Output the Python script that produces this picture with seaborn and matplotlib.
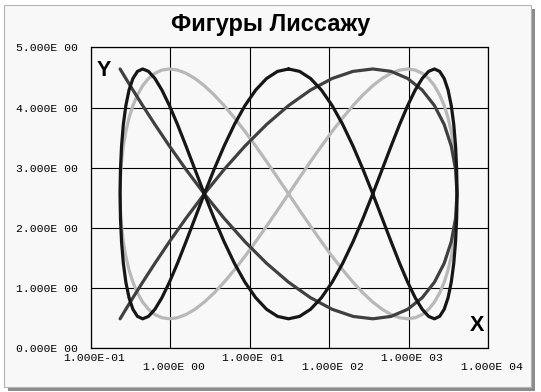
import matplotlib
matplotlib.use("Agg")
import matplotlib.pyplot as plt
from matplotlib.patches import Rectangle
from matplotlib.transforms import ScaledTranslation
from matplotlib.ticker import NullLocator
import seaborn as sns
import pandas as pd

# ---------------- data ----------------
title = "Фигуры Лиссажу"

x_ticks = [0.1, 1, 10, 100, 1000, 10000]
x_tick_labels = ["1.000E-01", "1.000E 00", "1.000E 01", "1.000E 02", "1.000E 03", "1.000E 04"]
y_ticks = [0, 1, 2, 3, 4, 5]
y_tick_labels = ["0.000E 00", "1.000E 00", "2.000E 00", "3.000E 00", "4.000E 00", "5.000E 00"]

# light grey figure-eight
grey_x = [30.903, 42.526, 58.441, 80.093, 109.32, 148.41, 200.12, 267.70, 354.81, 465.38,
          603.36, 772.35, 975.14, 1213.1, 1485.6, 1789.4, 2118.2, 2462.5, 2809.5, 3144.1,
          3449.5, 3709.1, 3907.2, 4031.4, 4073.8,
          4031.4, 3907.2, 3709.1, 3449.5, 3144.1, 2809.5, 2462.5, 2118.2, 1789.4, 1485.6,
          1213.1, 975.14, 772.35, 603.36, 465.38, 354.81, 267.70, 200.12, 148.41, 109.32,
          80.093, 58.441, 42.526, 30.903, 22.457, 16.341, 11.924, 8.7358, 6.435, 4.7722,
          3.5674, 2.6915, 2.0521, 1.5828, 1.2365, 0.9793, 0.7872, 0.6428, 0.5337, 0.4509,
          0.3878, 0.3399, 0.3037, 0.2769, 0.2575, 0.2444, 0.2369, 0.2344,
          0.2369, 0.2444, 0.2575, 0.2769, 0.3037, 0.3399, 0.3878, 0.4509, 0.5337, 0.6428,
          0.7872, 0.9793, 1.2365, 1.5828, 2.0521, 2.6915, 3.5674, 4.7722, 6.435, 8.7358,
          11.924, 16.341, 22.457, 30.903]
grey_y = [2.565, 2.836, 3.102, 3.359, 3.603, 3.828, 4.032, 4.211, 4.362, 4.482, 4.569, 4.622, 4.640,
          4.622, 4.569, 4.482, 4.362, 4.211, 4.032, 3.828, 3.603, 3.359, 3.102, 2.836, 2.565,
          2.294, 2.028, 1.771, 1.527, 1.302, 1.098, 0.919, 0.768, 0.648, 0.561, 0.508, 0.490,
          0.508, 0.561, 0.648, 0.768, 0.919, 1.098, 1.302, 1.527, 1.771, 2.028, 2.294, 2.565,
          2.836, 3.102, 3.359, 3.603, 3.828, 4.032, 4.211, 4.362, 4.482, 4.569, 4.622, 4.640,
          4.622, 4.569, 4.482, 4.362, 4.211, 4.032, 3.828, 3.603, 3.359, 3.102, 2.836, 2.565,
          2.294, 2.028, 1.771, 1.527, 1.302, 1.098, 0.919, 0.768, 0.648, 0.561, 0.508, 0.490,
          0.508, 0.561, 0.648, 0.768, 0.919, 1.098, 1.302, 1.527, 1.771, 2.028, 2.294, 2.565]

# dark grey open curve
dgrey_x = [0.2344, 0.2444, 0.2769, 0.3399, 0.4509, 0.6428, 0.9793, 1.5828, 2.6915, 4.7722,
           8.7358, 16.341, 30.903, 58.441, 109.32, 200.12, 354.81, 603.36, 975.14, 1485.6,
           2118.2, 2809.5, 3449.5, 3907.2, 4073.8, 3907.2, 3449.5, 2809.5, 2118.2, 1485.6,
           975.14, 603.36, 354.81, 200.12, 109.32, 58.441, 30.903, 16.341, 8.7358, 4.7722,
           2.6915, 1.5828, 0.9793, 0.6428, 0.4509, 0.3399, 0.2769, 0.2444, 0.2344]
dgrey_y = [4.640, 4.600, 4.482, 4.290, 4.032, 3.718, 3.359, 2.970, 2.565, 2.160,
           1.771, 1.412, 1.098, 0.840, 0.648, 0.530, 0.490, 0.530, 0.648, 0.840,
           1.098, 1.412, 1.771, 2.160, 2.565, 2.970, 3.359, 3.718, 4.032, 4.290,
           4.482, 4.600, 4.640, 4.600, 4.482, 4.290, 4.032, 3.718, 3.359, 2.970,
           2.565, 2.160, 1.771, 1.412, 1.098, 0.840, 0.648, 0.530, 0.490]

# black closed curve (three lobes)
black_x = [30.903, 42.526, 58.441, 80.093, 109.32, 148.41, 200.12, 267.70, 354.81, 465.38,
           603.36, 772.35, 975.14, 1213.1, 1485.6, 1789.4, 2118.2, 2462.5, 2809.5, 3144.1,
           3449.5, 3709.1, 3907.2, 4031.4, 4073.8,
           4031.4, 3907.2, 3709.1, 3449.5, 3144.1, 2809.5, 2462.5, 2118.2, 1789.4, 1485.6,
           1213.1, 975.14, 772.35, 603.36, 465.38, 354.81, 267.70, 200.12, 148.41, 109.32,
           80.093, 58.441, 42.526, 30.903, 22.457, 16.341, 11.924, 8.7358, 6.435, 4.7722,
           3.5674, 2.6915, 2.0521, 1.5828, 1.2365, 0.9793, 0.7872, 0.6428, 0.5337, 0.4509,
           0.3878, 0.3399, 0.3037, 0.2769, 0.2575, 0.2444, 0.2369, 0.2344,
           0.2369, 0.2444, 0.2575, 0.2769, 0.3037, 0.3399, 0.3878, 0.4509, 0.5337, 0.6428,
           0.7872, 0.9793, 1.2365, 1.5828, 2.0521, 2.6915, 3.5674, 4.7722, 6.435, 8.7358,
           11.924, 16.341, 22.457, 30.903]
black_y = [4.640, 4.600, 4.482, 4.290, 4.032, 3.718, 3.359, 2.970, 2.565, 2.160,
           1.771, 1.412, 1.098, 0.840, 0.648, 0.530, 0.490,
           0.530, 0.648, 0.840, 1.098, 1.412, 1.771, 2.160, 2.565, 2.970, 3.359,
           3.718, 4.032, 4.290, 4.482, 4.600, 4.640,
           4.600, 4.482, 4.290, 4.032, 3.718, 3.359, 2.970, 2.565, 2.160, 1.771,
           1.412, 1.098, 0.840, 0.648, 0.530, 0.490,
           0.530, 0.648, 0.840, 1.098, 1.412, 1.771, 2.160, 2.565, 2.970, 3.359,
           3.718, 4.032, 4.290, 4.482, 4.600, 4.640,
           4.600, 4.482, 4.290, 4.032, 3.718, 3.359, 2.970, 2.565, 2.160, 1.771,
           1.412, 1.098, 0.840, 0.648, 0.530, 0.490,
           0.530, 0.648, 0.840, 1.098, 1.412, 1.771, 2.160, 2.565, 2.970, 3.359,
           3.718, 4.032, 4.290, 4.482, 4.600, 4.640]

# ---------------- figure ----------------
sns.set_theme(style="white")
plt.rcParams['font.family'] = ['Liberation Sans', 'DejaVu Sans']

W, H = 541, 392
fig = plt.figure(figsize=(W / 100, H / 100), dpi=100, facecolor='white')


def fx(px):
    return px / W


def fy(py):
    return 1 - py / H


# drop shadow + light panel
fig.patches.append(Rectangle((fx(8), fy(391)), (531 - 4) / W, (387 - 5) / H,
                             transform=fig.transFigure, facecolor='#8c8c8c',
                             edgecolor='none', zorder=-3))
fig.patches.append(Rectangle((fx(4), fy(387)), (531 - 4) / W, (387 - 5) / H,
                             transform=fig.transFigure, facecolor='#f8f8f8',
                             edgecolor='#b4b4b4', linewidth=0.8, zorder=-2))

ax = fig.add_axes([fx(90.7), fy(348.3), (488 - 90.7) / W, (348.3 - 47.3) / H])
ax.set_facecolor('#f8f8f8')
ax.set_xscale('log')

curves = [
    (grey_x, grey_y, '#b8b8b8'),
    (dgrey_x, dgrey_y, '#404040'),
    (black_x, black_y, '#161616'),
]
for xs, ys, col in curves:
    df = pd.DataFrame({'x': xs, 'y': ys})
    sns.lineplot(data=df, x='x', y='y', sort=False, estimator=None,
                 color=col, linewidth=2.3, ax=ax, zorder=3)

ax.set_xlim(0.1, 10000)
ax.set_ylim(0, 5)
ax.set_xlabel('')
ax.set_ylabel('')
ax.set_xticks(x_ticks)
ax.set_xticklabels(x_tick_labels)
ax.xaxis.set_minor_locator(NullLocator())
ax.set_yticks(y_ticks)
ax.set_yticklabels(y_tick_labels)
ax.grid(True, color='black', linewidth=0.8, zorder=1)
ax.set_axisbelow(True)
for sp in ax.spines.values():
    sp.set_color('black')
    sp.set_linewidth(0.9)
    sp.set_visible(True)

ax.tick_params(axis='both', length=0, colors='black')
ax.tick_params(axis='y', pad=9)
ax.tick_params(axis='x', pad=3.2)
for lbl in ax.get_yticklabels() + ax.get_xticklabels():
    lbl.set_fontfamily('Liberation Mono')
    lbl.set_fontsize(8.2)
for i, lbl in enumerate(ax.get_xticklabels()):
    dy = -9.5 / 100 if i % 2 else 0
    lbl.set_transform(lbl.get_transform() + ScaledTranslation(3.5 / 100, dy, fig.dpi_scale_trans))

fig.text(0.5, fy(31), title, ha='center', va='baseline', fontsize=17,
         fontweight='bold', color='black')
fig.text(fx(104), fy(76), 'Y', ha='center', va='baseline', fontsize=15.5,
         fontweight='bold', color='black')
fig.text(fx(476.5), fy(330.7), 'X', ha='center', va='baseline', fontsize=15.5,
         fontweight='bold', color='black')

fig.savefig('out.png', dpi=100, facecolor='white')
